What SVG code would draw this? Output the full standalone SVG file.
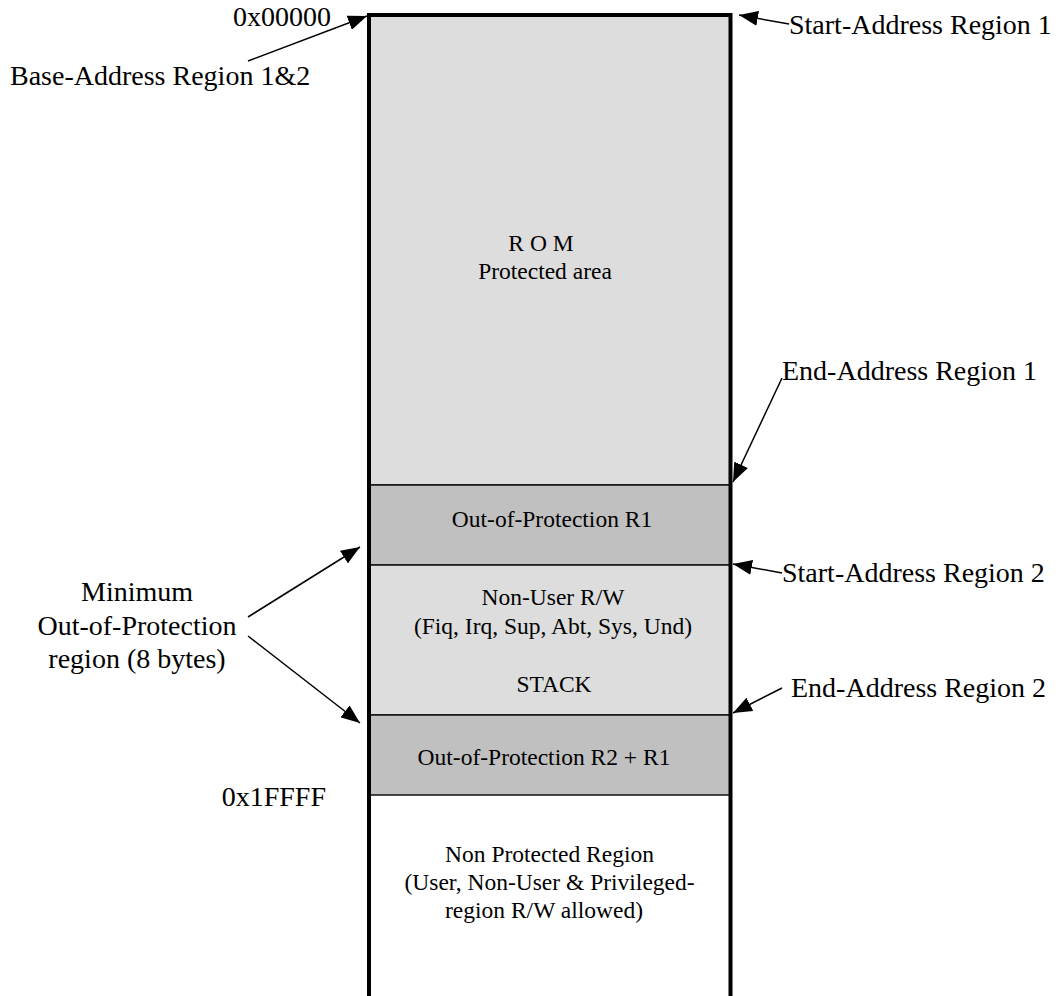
<svg xmlns="http://www.w3.org/2000/svg" width="1060" height="996" viewBox="0 0 1060 996">
  <style>
    text { font-family: "Liberation Serif", "Times New Roman", serif; fill: #000; }
    .lbl { font-size: 28px; }
    .in { font-size: 23.5px; text-anchor: middle; }
    .mid { text-anchor: middle; }
    .band { stroke: #111; stroke-width: 1.5; }
    .light { fill: #dddddd; }
    .dark { fill: #c0c0c0; }
    .edge { stroke: #000; stroke-width: 4; fill: none; }
    .conn { stroke: #000; stroke-width: 1.5; fill: none; marker-end: url(#head); }
  </style>
  <defs>
    <marker id="head" markerUnits="userSpaceOnUse" markerWidth="19" markerHeight="15" refX="19" refY="7.5" orient="auto">
      <path d="M0,0 L19,7.5 L0,15 z" fill="#000"/>
    </marker>
  </defs>

  <!-- memory map column -->
  <g id="rom">
    <rect class="band light" x="369" y="15" width="361" height="470"/>
    <text class="in" x="541" y="251">R O M</text>
    <text class="in" x="545" y="279">Protected area</text>
  </g>
  <g id="oop-r1">
    <rect class="band dark" x="369" y="485" width="361" height="80"/>
    <text class="in" x="552" y="527">Out-of-Protection R1</text>
  </g>
  <g id="non-user">
    <rect class="band light" x="369" y="565" width="361" height="150"/>
    <text class="in" x="553" y="605">Non-User R/W</text>
    <text class="in" x="553" y="634">(Fiq, Irq, Sup, Abt, Sys, Und)</text>
    <text class="in" x="554" y="692">STACK</text>
  </g>
  <g id="oop-r2">
    <rect class="band dark" x="369" y="715" width="361" height="80"/>
    <text class="in" x="544" y="765">Out-of-Protection R2 + R1</text>
  </g>
  <g id="non-protected">
    <text class="in" x="549.5" y="862">Non Protected Region</text>
    <text class="in" x="549.5" y="890">(User, Non-User &amp; Privileged-</text>
    <text class="in" x="544" y="918">region R/W allowed)</text>
  </g>
  <g id="column-edges">
    <path class="edge" d="M369,996 V15 H730.5 V996"/>
  </g>

  <!-- address labels -->
  <g id="label-base-addr">
    <text class="lbl" x="331" y="26" text-anchor="end">0x00000</text>
    <text class="lbl" x="10" y="85">Base-Address Region 1&amp;2</text>
  </g>
  <g id="label-end-addr">
    <text class="lbl" x="326" y="806" text-anchor="end">0x1FFFF</text>
  </g>
  <g id="label-start-r1">
    <text class="lbl" x="789" y="34">Start-Address Region 1</text>
  </g>
  <g id="label-end-r1">
    <text class="lbl" x="782" y="380">End-Address Region 1</text>
  </g>
  <g id="label-start-r2">
    <text class="lbl" x="782" y="582">Start-Address Region 2</text>
  </g>
  <g id="label-end-r2">
    <text class="lbl" x="791" y="697">End-Address Region 2</text>
  </g>
  <g id="label-min-oop">
    <text class="lbl mid" x="137" y="601">Minimum</text>
    <text class="lbl mid" x="137" y="635">Out-of-Protection</text>
    <text class="lbl mid" x="137" y="668">region (8 bytes)</text>
  </g>

  <!-- connectors -->
  <g id="connectors">
    <line class="conn" x1="248" y1="61" x2="367" y2="16"/>
    <line class="conn" x1="789" y1="24" x2="739" y2="15"/>
    <line class="conn" x1="782" y1="378" x2="733" y2="482"/>
    <line class="conn" x1="782" y1="573" x2="733" y2="564"/>
    <line class="conn" x1="782" y1="688" x2="733" y2="713"/>
    <line class="conn" x1="248" y1="617" x2="360" y2="547"/>
    <line class="conn" x1="248" y1="636" x2="360" y2="723"/>
  </g>
</svg>
